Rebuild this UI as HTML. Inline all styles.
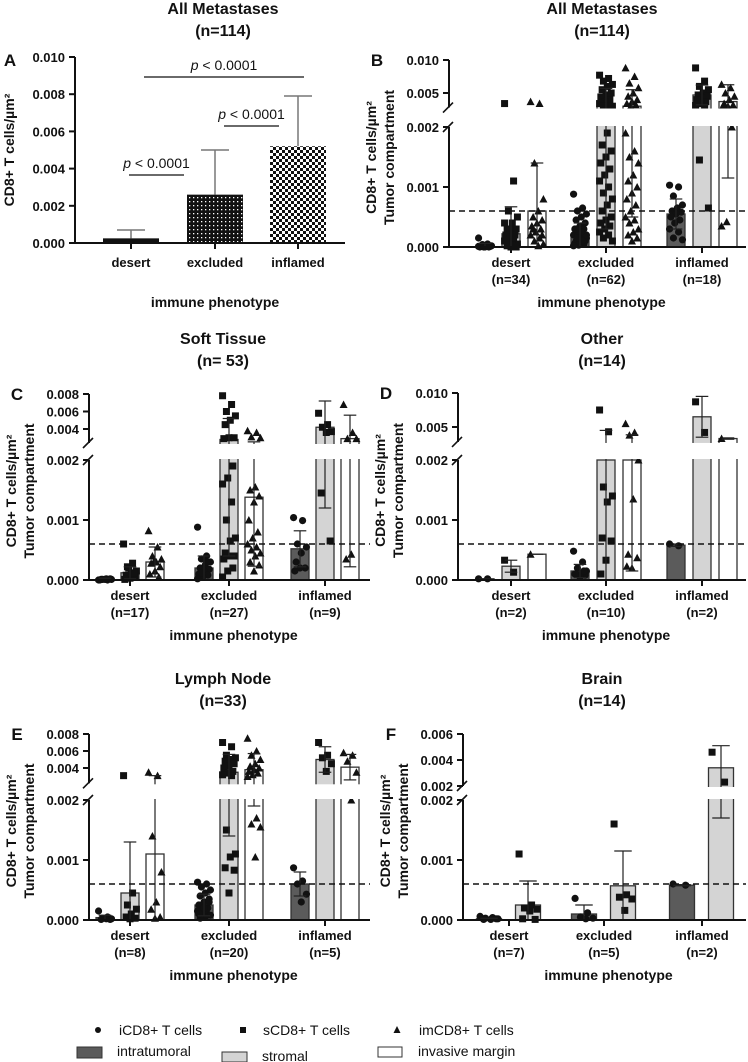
<!DOCTYPE html>
<html><head><meta charset="utf-8"><style>
html,body{margin:0;padding:0;background:#fff;}
svg{display:block;font-family:"Liberation Sans",Arial,sans-serif;}
</style></head><body>
<svg id="fig" width="748" height="1062" viewBox="0 0 748 1062">
<defs>
<pattern id="dots" width="4" height="4" patternUnits="userSpaceOnUse"><rect width="4" height="4" fill="#111"/><rect x="1" y="1" width="1.3" height="1.3" fill="#fff"/></pattern>
<pattern id="checks" width="6" height="6" patternUnits="userSpaceOnUse"><rect width="6" height="6" fill="#fff"/><rect width="3" height="3" fill="#111"/><rect x="3" y="3" width="3" height="3" fill="#111"/></pattern>
</defs>
</svg>
<script>
// ---------- Panel A data ----------
const A_categories = ["desert","excluded","inflamed"];
const A_means = [0.00025, 0.0026, 0.0052];
const A_sd = [0.00045, 0.0024, 0.0027];
const A_ticks = [0,0.002,0.004,0.006,0.008,0.010];
const A_pvals = ["p < 0.0001","p < 0.0001","p < 0.0001"];

// ---------- shared ----------
const groupNames = ["desert","excluded","inflamed"];
const threshold = 0.0006;

// ---------- Panel B ----------
const B_n = ["(n=34)","(n=62)","(n=18)"];
const B_iMean=[0.00003,0.0002,0.00055], B_iSD=[0.00003,0.0002,0.00025];
const B_sMean=[0.00022,0.003,0.0047], B_sSD=[0.00045,0.0027,0.0015];
const B_mMean=[0.0006,0.003,0.0037], B_mSD=[0.0008,0.0025,0.00255];
const B_iPts=[[0.00015,0.00005,0.00003,0.00002,0.00002,0.00001,0.00001,0,0,0,0,0.00001,0.00002,0.00004],
[0.00088,0.00065,0.0006,0.00055,0.0005,0.00045,0.0004,0.00035,0.0003,0.0003,0.00025,0.0002,0.0002,0.00018,0.00015,0.00012,0.0001,0.0001,0.00008,0.00006,0.00005,0.00003,0.00002,0.0001,0.00015,0.0002,0.00025,0.0003],
[0.00103,0.001,0.00085,0.0007,0.00065,0.0006,0.00058,0.00055,0.0005,0.00045,0.0004,0.0003,0.00025,0.00015,0.00012]];
const B_sPts=[[0.0034,0.0011,0.0006,0.0005,0.0004,0.0003,0.0003,0.00025,0.0002,0.0002,0.00015,0.0001,0.0001,0.00008,0.00005,0.00003,0.00002,0,0,0.0001,0.0002,0.0003,0.0004],
[0.0077,0.0072,0.0068,0.0063,0.006,0.0055,0.005,0.0047,0.0044,0.004,0.0037,0.0034,0.0031,0.003,0.003,0.0019,0.0017,0.0016,0.0015,0.0014,0.0013,0.0012,0.0011,0.001,0.0009,0.0008,0.0007,0.0006,0.0005,0.00045,0.0004,0.00035,0.0003,0.00025,0.0002,0.00015,0.0001],
[0.0088,0.0068,0.006,0.0055,0.005,0.0047,0.0045,0.0042,0.004,0.0037,0.0034,0.0031,0.003,0.00145,0.00065]];
const B_mPts=[[0.0037,0.0034,0.0014,0.0008,0.0006,0.0005,0.00045,0.0004,0.00035,0.0003,0.00025,0.0002,0.00015,0.0001,0.00005,0.00002,0.0003,0.0002],
[0.0088,0.0075,0.0065,0.0058,0.005,0.0045,0.004,0.0037,0.0034,0.0032,0.003,0.0019,0.0016,0.0015,0.0014,0.0012,0.0011,0.001,0.0009,0.0008,0.0007,0.0006,0.0005,0.00045,0.0004,0.0003,0.00025,0.0002,0.00015,0.0001],
[0.0063,0.0058,0.005,0.0045,0.004,0.0034,0.0032,0.003,0.003,0.002,0.00042,0.00035]];
const B_ticksLow=[0,0.001,0.002], B_ticksUp=[0.005,0.010];

// ---------- Panel C ----------
const C_n = ["(n=17)","(n=27)","(n=9)"];
const C_iMean=[0.00002,0.0002,0.00052], C_iSD=[0.00001,0.0002,0.0003];
const C_sMean=[0.00012,0.0028,0.0042], C_sSD=[0.0001,0.0024,0.003];
const C_mMean=[0.0003,0.00138,0.0029], C_mSD=[0.00025,0.00115,0.00268];
const C_iPts=[[0,0,0.00001,0.00001,0.00002,0.00001,0.00002,0.00001,0],
[0.00088,0.0004,0.00035,0.0003,0.00025,0.0002,0.00018,0.00015,0.0001,0.00008,0.00005,0.00002,0.0003,0.00012],
[0.00104,0.00099,0.0006,0.00055,0.00045,0.0003,0.0002,0.0002,0.00015]];
const C_sPts=[[0.0006,0.00028,0.00022,0.00015,0.0001,0.00008,0.00005,0.00003,0.00001,0.00012,0.0002],
[0.0078,0.0068,0.006,0.0055,0.005,0.0045,0.003,0.003,0.0029,0.0019,0.0017,0.0016,0.0013,0.001,0.0007,0.00065,0.00045,0.0004,0.0004,0.00035,0.0002,0.00015,0.00005],
[0.0058,0.0045,0.0042,0.0037,0.0036,0.00145,0.00065]];
const C_mPts=[[0.00082,0.00055,0.0004,0.00035,0.0003,0.00028,0.00022,0.00015,0.0001,0.00005,0.0003],
[0.0038,0.0036,0.0031,0.003,0.00155,0.0015,0.0014,0.0013,0.001,0.0008,0.0007,0.0006,0.00055,0.0005,0.00045,0.0004,0.0003,0.00025,0.00015],
[0.0068,0.0036,0.0029,0.0029,0.00043,0.00035]];
const C_ticksLow=[0,0.001,0.002], C_ticksUp=[0.004,0.006,0.008];

// ---------- Panel D ----------
const D_n = ["(n=2)","(n=10)","(n=2)"];
const D_iMean=[0.00002,0.00015,0.00058], D_iSD=[0,0.00011,0.00002];
const D_sMean=[0.00023,0.002,0.0065], D_sSD=[0.0001,0.0025,0.003];
const D_mMean=[0.00043,0.002,0.0033], D_mSD=[0,0.00185,0.0001];
const D_iPts=[[0.00002,0.00002],[0.00048,0.0003,0.0002,0.00015,0.0001,0.0001,0.00008,0.00005,0.0001,0.00015],[0.0006,0.00057]];
const D_sPts=[[0.00033,0.00013],[0.0075,0.0043,0.00155,0.0014,0.0013,0.0007,0.00065,0.00033,0.0001],[0.0087,0.0042]];
const D_mPts=[[0.00043],[0.0055,0.0042,0.0038,0.002,0.00135,0.00043,0.00037,0.0002,0.00023],[0.0033]];
const D_ticksLow=[0,0.001,0.002], D_ticksUp=[0.005,0.010];

// ---------- Panel E ----------
const E_n = ["(n=8)","(n=20)","(n=5)"];
const E_iMean=[0.00004,0.00025,0.0006], E_iSD=[0.00004,0.00018,0.0002];
const E_sMean=[0.00045,0.0035,0.005], E_sSD=[0.00085,0.0021,0.0015];
const E_mMean=[0.0011,0.0038,0.0041], E_mSD=[0.002,0.0019,0.0015];
const E_iPts=[[0.00015,0.00005,0.00003,0.00002,0.00002,0.00001,0.00001,0.00003],
[0.00063,0.0006,0.00055,0.0005,0.00045,0.0004,0.00035,0.0003,0.00025,0.0002,0.0002,0.00015,0.00012,0.0001,0.00008,0.00005,0.00003,0.0003,0.0002,0.0001],
[0.00087,0.00065,0.0006,0.00043,0.0003]];
const E_sPts=[[0.0031,0.00045,0.00025,0.00018,0.0001,0.00005,0.00003,0.00002],
[0.007,0.0065,0.0055,0.0052,0.005,0.0048,0.0045,0.0042,0.004,0.0036,0.0034,0.0032,0.0031,0.0015,0.0011,0.00105,0.00087,0.00083,0.00045],
[0.007,0.0055,0.0052,0.0045,0.0036]];
const E_mPts=[[0.0035,0.0031,0.0014,0.0008,0.0003,0.00018,0.00005,0.00003],
[0.0075,0.006,0.0055,0.005,0.0045,0.0042,0.004,0.0038,0.0036,0.0034,0.0032,0.003,0.0017,0.0016,0.00155,0.00105],
[0.0058,0.0055,0.0048,0.0035,0.002]];
const E_ticksLow=[0,0.001,0.002], E_ticksUp=[0.004,0.006,0.008];

// ---------- Panel F ----------
const F_n = ["(n=7)","(n=5)","(n=2)"];
const F_iMean=[0.00002,0.0001,0.00058], F_iSD=[0.00001,0.00015,0.00001];
const F_sMean=[0.00025,0.00057,0.0034], F_sSD=[0.0004,0.00058,0.0017];
const F_iPts=[[0.00006,0.00004,0.00003,0.00002,0.00001,0.00001,0.00002],[0.00036,0.00012,0.00005,0.00003,0.00002],[0.0006,0.00058]];
const F_sPts=[[0.0011,0.00025,0.0002,0.00018,0.00015,0.00002,0.00001],[0.0016,0.00042,0.00038,0.00035,0.00016],[0.0046,0.0023]];
const F_ticksLow=[0,0.001,0.002], F_ticksUp=[0.002,0.004,0.006];

const NS="http://www.w3.org/2000/svg";
const svg=document.getElementById('fig');
function el(tag,attrs,parent,text){const e=document.createElementNS(NS,tag);for(const k in attrs)e.setAttribute(k,attrs[k]);if(text!==undefined)e.textContent=text;(parent||svg).appendChild(e);return e;}
function txt(x,y,s,size,anchor,weight,parent){return el('text',{x:x,y:y,'font-size':size,'text-anchor':anchor||'middle','font-weight':weight||'bold',fill:'#111'},parent,s);}

// ---------- Panel A ----------
(function(){
  const g=el('g',{});
  
  
  const axX=75,y0=243,yTop=57,vMax=0.010;
  const y=v=>y0-(v/vMax)*(y0-yTop);
  const centers=[131,215,298],bw=56;
  const fills=['#111','url(#dots)','url(#checks)'];
  txt(223,14,'All Metastases',16,'middle','bold',g);
  txt(223,36,'(n=114)',16,'middle','bold',g);
  txt(10,66,'A',17,'middle','bold',g);
  A_means.forEach((m,k)=>{
    const cx=centers[k];
    const top=y(m+A_sd[k]);
    const ln=el('line',{x1:cx,y1:y(m),x2:cx,y2:top,stroke:'#777','stroke-width':1.5},g);
    const cap=el('line',{x1:cx-14,y1:top,x2:cx+14,y2:top,stroke:'#777','stroke-width':1.5},g);
    const r=el('rect',{x:cx-bw/2,y:y(m),width:bw,height:y0-y(m),fill:fills[k]},g);
    
    
    const t=txt(cx,y0+24,A_categories[k],13,'middle','bold',g);
    el('line',{x1:cx,y1:y0,x2:cx,y2:y0+6,stroke:'#111','stroke-width':2},g);
  });
  el('line',{x1:axX,y1:y0+1,x2:axX,y2:yTop,stroke:'#111','stroke-width':2},g);
  el('line',{x1:axX,y1:y0,x2:345,y2:y0,stroke:'#111','stroke-width':2},g);
  A_ticks.forEach(v=>{el('line',{x1:axX-6,y1:y(v),x2:axX,y2:y(v),stroke:'#111','stroke-width':2},g);txt(axX-10,y(v)+5,v.toFixed(3),13,'end','bold',g);});
  const pairs=[[0,1,175],[1,2,126],[0,2,77]];
  const spans=[[129,184],[224,279],[144,304]];
  pairs.forEach((p,k)=>{
    const [x1,x2]=spans[k];
    el('line',{x1:x1,y1:p[2],x2:x2,y2:p[2],stroke:'#111','stroke-width':1.3},g);
    const t=el('text',{x:(x1+x2)/2,y:p[2]-7,'font-size':14,'text-anchor':'middle',fill:'#111'},g);
    
    
    const parts=A_pvals[k].split(' ');
    el('tspan',{'font-style':'italic'},t,parts[0]);
    el('tspan',{},t,' '+parts.slice(1).join(' '));
  });
  const yt=txt(0,0,'CD8+ T cells/µm²',14,'middle','bold',g);
  yt.setAttribute('transform','translate(14,150) rotate(-90)');
  
  
  txt(215,307,'immune phenotype',14,'middle','bold',g);
})();

// ---------- split-axis panels ----------
function panel(cfg,series){
  const g=el('g',{});
  
  
  const {axX,right,y0,yL2,up,centers,offs,bw}=cfg;
  const yU=v=>up.y1-(v-up.v1)*(up.y1-up.y2)/(up.v2-up.v1);
  const yMin=yU(up.min);
  const yOf=v=>{
    if(v<=0.002) return y0-v*(y0-yL2)/0.002;
    if(v>=up.min) return yU(v);
    return yL2+(v-0.002)/(up.min-0.002)*(yMin-yL2);
  };
  txt(cfg.tx,cfg.ty,cfg.title,16,'middle','bold',g);
  txt(cfg.tx,cfg.ty+22,cfg.ntitle,16,'middle','bold',g);
  txt(axX-72,up.y2+6,cfg.id,17,'middle','bold',g);
  // bars
  series.forEach((s,si)=>{
    s.mean.forEach((m,k)=>{
      const cx=centers[k]+offs[si];
      const yt=yOf(m);
      const r=el('rect',{x:cx-bw/2,y:yt,width:bw,height:y0-yt,fill:s.fill,stroke:'#333','stroke-width':1.3},g);
      
      
    });
  });
  // points
  series.forEach((s,si)=>{
    s.pts.forEach((arr,k)=>{
      const cx=centers[k]+offs[si];
      arr.forEach((v,j)=>{
        const jx=cx+(((j*7)%11)-5)*bw/14;
        const yy=yOf(v);
        let m;
        if(s.shape==='c') m=el('circle',{cx:jx,cy:yy,r:3.6,fill:'#111'},g);
        else if(s.shape==='s') m=el('rect',{x:jx-3.5,y:yy-3.5,width:7,height:7,fill:'#111'},g);
        else m=el('path',{d:`M${jx},${yy-4} L${jx+4},${yy+3.5} L${jx-4},${yy+3.5}Z`,fill:'#111'},g);
        
        
      });
    });
  });
  // error bars
  series.forEach((s,si)=>{
    s.mean.forEach((m,k)=>{
      const cx=centers[k]+offs[si];
      const lo=yOf(Math.max(m-s.sd[k],0)),hi=yOf(m+s.sd[k]);
      el('line',{x1:cx,y1:lo,x2:cx,y2:hi,stroke:'#222','stroke-width':1.2},g);
      el('line',{x1:cx-bw*0.35,y1:hi,x2:cx+bw*0.35,y2:hi,stroke:'#222','stroke-width':1.2},g);
      if(s.sd[k]>0) el('line',{x1:cx-bw*0.35,y1:lo,x2:cx+bw*0.35,y2:lo,stroke:'#222','stroke-width':1.2},g);
    });
  });
  // break gap
  el('rect',{x:axX-4,y:yMin+1,width:right-axX+4,height:yL2-yMin-2,fill:'#fff'},g);
  // threshold
  const th=el('line',{x1:axX,y1:yOf(threshold),x2:right,y2:yOf(threshold),stroke:'#111','stroke-width':1.6,'stroke-dasharray':'6,4'},g);
  
  
  // axes
  el('line',{x1:axX,y1:y0+1,x2:axX,y2:yL2,stroke:'#111','stroke-width':2},g);
  el('line',{x1:axX,y1:yMin,x2:axX,y2:up.y2,stroke:'#111','stroke-width':2},g);
  el('line',{x1:axX-6,y1:yMin+5,x2:axX+4,y2:yMin-5,stroke:'#111','stroke-width':1.6},g);
  el('line',{x1:axX-6,y1:yL2+5,x2:axX+4,y2:yL2-5,stroke:'#111','stroke-width':1.6},g);
  el('line',{x1:axX,y1:y0,x2:right,y2:y0,stroke:'#111','stroke-width':2},g);
  cfg.ticksLow.forEach(v=>{el('line',{x1:axX-6,y1:yOf(v),x2:axX,y2:yOf(v),stroke:'#111','stroke-width':2},g);txt(axX-10,yOf(v)+5,v.toFixed(3),13,'end','bold',g);});
  cfg.ticksUp.forEach(v=>{const yy=yU(v);el('line',{x1:axX-6,y1:yy,x2:axX,y2:yy,stroke:'#111','stroke-width':2},g);txt(axX-10,yy+5,v.toFixed(3),13,'end','bold',g);});
  centers.forEach((cx,k)=>{
    el('line',{x1:cx,y1:y0,x2:cx,y2:y0+6,stroke:'#111','stroke-width':2},g);
    txt(cx,y0+20,groupNames[k],13,'middle','bold',g);
    txt(cx,y0+37,cfg.n[k],13,'middle','bold',g);
  });
  const ph=txt((axX+right)/2+4,y0+60,'immune phenotype',14,'middle','bold',g);
  
  
  const ymid=(y0+up.y2)/2+4;
  const t1=txt(0,0,'CD8+ T cells/µm²',14,'middle','bold',g);
  t1.setAttribute('transform',`translate(${axX-73},${ymid}) rotate(-90)`);
  const t2=txt(0,0,'Tumor compartment',14,'middle','bold',g);
  t2.setAttribute('transform',`translate(${axX-55},${ymid}) rotate(-90)`);
  
  
}
const DARK='#5b5b5b',LIGHT='#d4d4d4',WHITE='#fff';
const off3=[-26,0,26];
panel({id:'B',title:'All Metastases',ntitle:'(n=114)',tx:602,ty:14,axX:449,right:746,y0:247,yL2:127,up:{v1:0.005,y1:93,v2:0.010,y2:60,min:0.0028},centers:[511,606,702],offs:off3,bw:18,ticksLow:B_ticksLow,ticksUp:B_ticksUp,n:B_n},
 [{key:'intratumoral',shape:'c',fill:DARK,mean:B_iMean,sd:B_iSD,pts:B_iPts},{key:'stromal',shape:'s',fill:LIGHT,mean:B_sMean,sd:B_sSD,pts:B_sPts},{key:'invasive-margin',shape:'t',fill:WHITE,mean:B_mMean,sd:B_mSD,pts:B_mPts}]);
panel({id:'C',title:'Soft Tissue',ntitle:'(n= 53)',tx:223,ty:344,axX:89,right:370,y0:580,yL2:460,up:{v1:0.004,y1:429,v2:0.008,y2:394,min:0.0024},centers:[130,229,325],offs:[-25,0,25],bw:18,ticksLow:C_ticksLow,ticksUp:C_ticksUp,n:C_n},
 [{key:'intratumoral',shape:'c',fill:DARK,mean:C_iMean,sd:C_iSD,pts:C_iPts},{key:'stromal',shape:'s',fill:LIGHT,mean:C_sMean,sd:C_sSD,pts:C_sPts},{key:'invasive-margin',shape:'t',fill:WHITE,mean:C_mMean,sd:C_mSD,pts:C_mPts}]);
panel({id:'D',title:'Other',ntitle:'(n=14)',tx:602,ty:344,axX:458,right:746,y0:580,yL2:460,up:{v1:0.005,y1:427,v2:0.010,y2:393,min:0.0028},centers:[511,606,702],offs:off3,bw:18,ticksLow:D_ticksLow,ticksUp:D_ticksUp,n:D_n},
 [{key:'intratumoral',shape:'c',fill:DARK,mean:D_iMean,sd:D_iSD,pts:D_iPts},{key:'stromal',shape:'s',fill:LIGHT,mean:D_sMean,sd:D_sSD,pts:D_sPts},{key:'invasive-margin',shape:'t',fill:WHITE,mean:D_mMean,sd:D_mSD,pts:D_mPts}]);
panel({id:'E',title:'Lymph Node',ntitle:'(n=33)',tx:223,ty:684,axX:89,right:370,y0:920,yL2:800,up:{v1:0.004,y1:768,v2:0.008,y2:734,min:0.0022},centers:[130,229,325],offs:[-25,0,25],bw:18,ticksLow:E_ticksLow,ticksUp:E_ticksUp,n:E_n},
 [{key:'intratumoral',shape:'c',fill:DARK,mean:E_iMean,sd:E_iSD,pts:E_iPts},{key:'stromal',shape:'s',fill:LIGHT,mean:E_sMean,sd:E_sSD,pts:E_sPts},{key:'invasive-margin',shape:'t',fill:WHITE,mean:E_mMean,sd:E_mSD,pts:E_mPts}]);
panel({id:'F',title:'Brain',ntitle:'(n=14)',tx:602,ty:684,axX:463,right:746,y0:920,yL2:800,up:{v1:0.002,y1:786,v2:0.006,y2:734,min:0.002},centers:[509,604,702],offs:[-20,19],bw:25,ticksLow:F_ticksLow,ticksUp:F_ticksUp,n:F_n},
 [{key:'intratumoral',shape:'c',fill:DARK,mean:F_iMean,sd:F_iSD,pts:F_iPts},{key:'stromal',shape:'s',fill:LIGHT,mean:F_sMean,sd:F_sSD,pts:F_sPts}]);
</script>
<svg style="position:absolute;left:0;top:1010px" width="748" height="52">
 <g><circle cx="98" cy="20" r="3" fill="#111"/><text x="119" y="25" font-size="14" fill="#111" font-family="Liberation Sans, sans-serif">iCD8+ T cells</text></g>
 <g><rect x="240" y="17" width="6" height="6" fill="#111"/><text x="263" y="25" font-size="14" fill="#111" font-family="Liberation Sans, sans-serif">sCD8+ T cells</text></g>
 <g><path d="M397,16 L400.5,23 L393.5,23Z" fill="#111"/><text x="419" y="25" font-size="14" fill="#111" font-family="Liberation Sans, sans-serif">imCD8+ T cells</text></g>
 <g><rect x="77" y="37" width="25" height="11" fill="#5b5b5b" stroke="#333"/><text x="117" y="46" font-size="14" fill="#111" font-family="Liberation Sans, sans-serif">intratumoral</text></g>
 <g><rect x="222" y="42" width="25" height="10" fill="#d4d4d4" stroke="#333"/><text x="262" y="51" font-size="14" fill="#111" font-family="Liberation Sans, sans-serif">stromal</text></g>
 <g><rect x="378" y="37" width="24" height="10" fill="#fff" stroke="#333"/><text x="418" y="46" font-size="14" fill="#111" font-family="Liberation Sans, sans-serif">invasive margin</text></g>
</svg>
</body></html>
